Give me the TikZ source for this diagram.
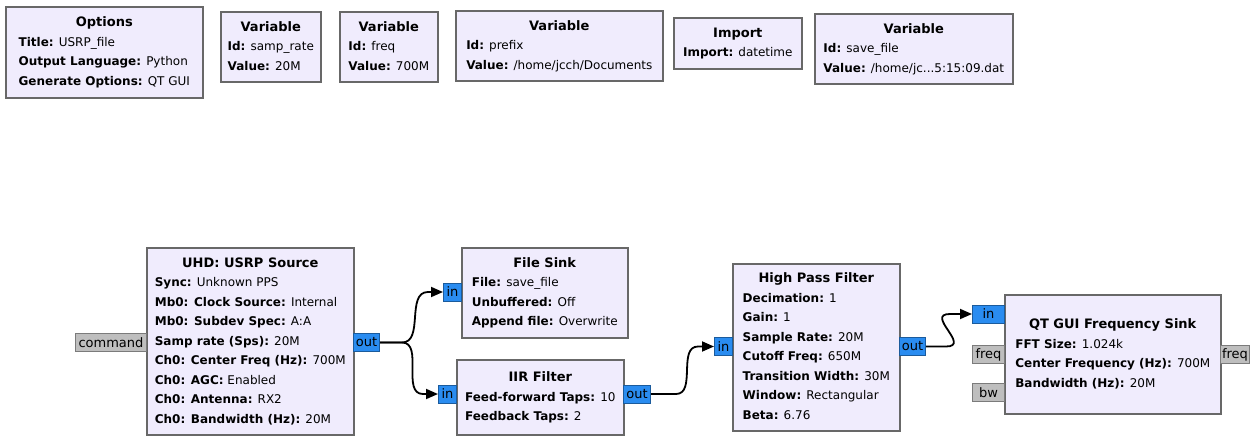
\documentclass[tikz,border=0pt]{standalone}
\usepackage{fontspec}
\setmainfont{DejaVu Sans}
\usepackage{tikz}
\usetikzlibrary{arrows.meta}

\definecolor{blkfill}{HTML}{F0ECFD}
\definecolor{blkline}{HTML}{686868}
\definecolor{strmport}{HTML}{2A8CF0}
\definecolor{msgport}{HTML}{BEBEBE}
\newcommand{\blkttl}[1]{\multicolumn{1}{@{}c@{}}{\fontsize{13}{19.5}\selectfont\textbf{#1}}}

\begin{document}
\begin{tikzpicture}[x=1pt,y=-1pt,
  blk/.style n args={2}{draw=blkline,fill=blkfill,line width=1.6pt,anchor=north west,minimum width=#1,minimum height=#2,inner sep=0pt,font=\fontsize{12}{19.5}\selectfont},
  prt/.style n args={2}{draw=#1!65!black,fill=#1,line width=1pt,anchor=west,minimum width=#2,minimum height=18,inner sep=0pt,font=\fontsize{13}{15}\selectfont},
  wire/.style={line width=1.8pt,-{Triangle[length=12pt,width=10pt]}}]
\useasboundingbox (0,0) rectangle (1257,436);
% top row
\node[blk={197}{91}] (opts) at (5,6) {\begin{tabular}{@{}l@{}}\blkttl{Options}\\
  \textbf{Title:} USRP\_file\\ \textbf{Output Language:} Python\\ \textbf{Generate Options:} QT GUI\end{tabular}};
\foreach \nm/\x/\y/\w/\id/\val in %
{vsr/220/11/100/samp\_rate/20M, vfq/339/11/98/freq/700M, vpf/455/10/207/prefix/{/home/jcch/Documents}, vsf/814/13/198/save\_file/{/home/jc...5:15:09.dat}} {
   \node[blk={\w}{70}] (\nm) at (\x,\y) {\begin{tabular}{@{}l@{}}\blkttl{Variable}\\
     \textbf{Id:} \id\\ \textbf{Value:} \val\end{tabular}};
}
\node[blk={128}{51}] (imp) at (673,17) {\begin{tabular}{@{}l@{}}\blkttl{Import}\\
  \textbf{Import:} datetime\end{tabular}};
% flow graph
\node[blk={207}{187}] (usrp) at (146,247) {\begin{tabular}{@{}l@{}}\blkttl{UHD: USRP Source}\\
  \textbf{Sync:} Unknown PPS\\ \textbf{Mb0: Clock Source:} Internal\\ \textbf{Mb0: Subdev Spec:} A:A\\
  \textbf{Samp rate (Sps):} 20M\\ \textbf{Ch0: Center Freq (Hz):} 700M\\ \textbf{Ch0: AGC:} Enabled\\
  \textbf{Ch0: Antenna:} RX2\\ \textbf{Ch0: Bandwidth (Hz):} 20M\end{tabular}};
\node[blk={166}{90}] (fsink) at (461,247) {\begin{tabular}{@{}l@{}}\blkttl{File Sink}\\
  \textbf{File:} save\_file\\ \textbf{Unbuffered:} Off\\ \textbf{Append file:} Overwrite\end{tabular}};
\node[blk={167}{75}] (iir) at (456,359) {\begin{tabular}{@{}l@{}}\blkttl{IIR Filter}\\
  \textbf{Feed-forward Taps:} 10\\ \textbf{Feedback Taps:} 2\end{tabular}};
\node[blk={167}{167}] (hpf) at (732,263) {\begin{tabular}{@{}l@{}}\blkttl{High Pass Filter}\\
  \textbf{Decimation:} 1\\ \textbf{Gain:} 1\\ \textbf{Sample Rate:} 20M\\ \textbf{Cutoff Freq:} 650M\\
  \textbf{Transition Width:} 30M\\ \textbf{Window:} Rectangular\\ \textbf{Beta:} 6.76\end{tabular}};
\node[blk={216}{119}] (qt) at (1004,294) {\begin{tabular}{@{}l@{}}\blkttl{QT GUI Frequency Sink}\\
  \textbf{FFT Size:} 1.024k\\ \textbf{Center Frequency (Hz):} 700M\\ \textbf{Bandwidth (Hz):} 20M\end{tabular}};
% ports
\node[prt={msgport}{71}] (cmd) at (75,342.5) {command};
\node[prt={strmport}{26}] (usrpout) at (353,342.5) {out};
\node[prt={strmport}{18}] (fsin) at (443,292) {in};
\node[prt={strmport}{18}] (iirin) at (438,394) {in};
\node[prt={strmport}{27}] (iirout) at (623,394) {out};
\node[prt={strmport}{18}] (hpfin) at (714,346.5) {in};
\node[prt={strmport}{26}] (hpfout) at (899,346.5) {out};
\node[prt={strmport}{32}] (qtin) at (972,314) {in};
\node[prt={msgport}{32}] (qtfreq) at (972,354.5) {freq};
\node[prt={msgport}{32}] (qtbw) at (972,392.5) {bw};
\node[prt={msgport}{29}] (qtfreqout) at (1220,354.5) {freq};
% connections
\draw[wire] (usrpout.east) -- ++(22,0) to[out=0,in=180] ([xshift=-15]fsin.west) -- (fsin.west);
\draw[wire] (usrpout.east) -- ++(22,0) to[out=0,in=180] ([xshift=-15]iirin.west) -- (iirin.west);
\draw[wire] (iirout.east) -- ++(25,0) to[out=0,in=180] ([xshift=-16]hpfin.west) -- (hpfin.west);
\draw[wire] (hpfout.east) -- ++(20,0) to[out=0,in=180,looseness=2] ([xshift=-22]qtin.west) -- (qtin.west);
\end{tikzpicture}
\end{document}
